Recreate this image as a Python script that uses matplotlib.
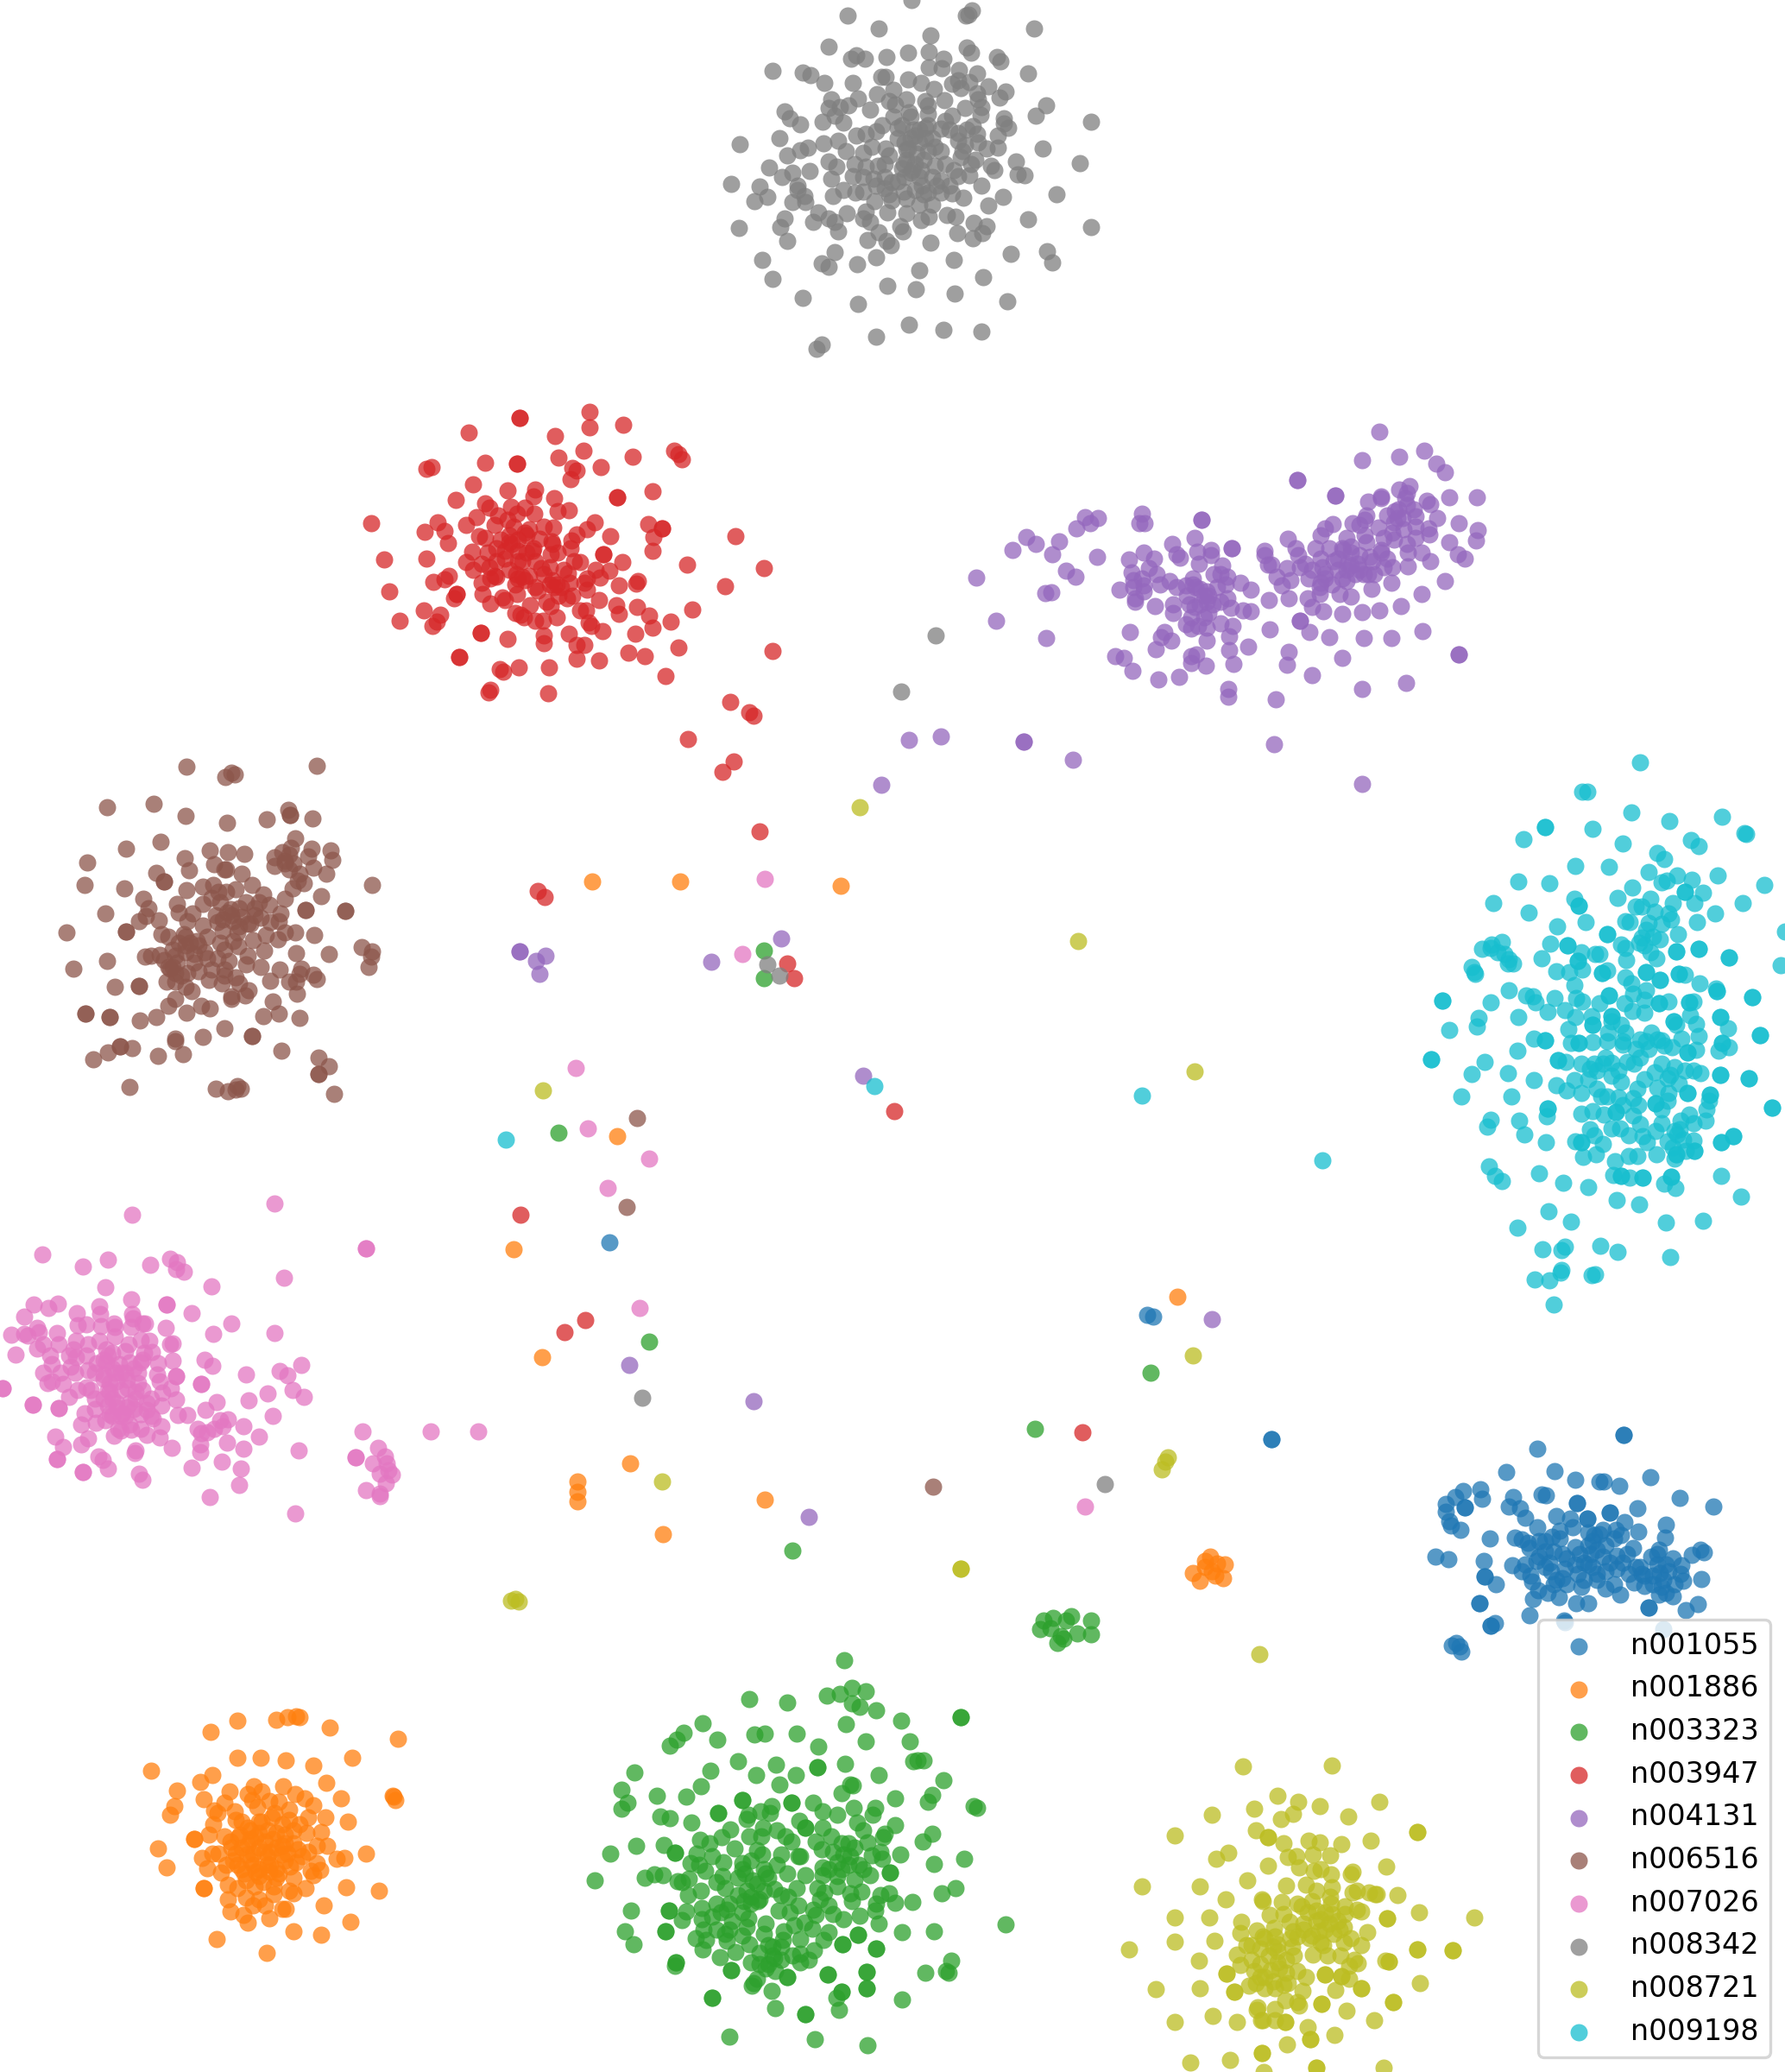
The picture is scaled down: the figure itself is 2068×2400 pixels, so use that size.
import matplotlib
matplotlib.use('Agg')
import matplotlib.pyplot as plt

# 2D embedding values, one small list per class
labels = ['n001055', 'n001886', 'n003323', 'n003947', 'n004131',
          'n006516', 'n007026', 'n008342', 'n008721', 'n009198']

n001055 = [(1881,1662),(1881,1662),(1781,1678),(1745,1705),(1801,1704),(1912,1711),(1825,1714),(1853,1716),(1858,1716),(1876,1721),
(1695,1727),(1715,1725),(1717,1736),(1686,1734),(1675,1742),(1675,1751),(1697,1746),(1697,1746),(1753,1734),(1786,1731),(1791,1732),
(1748,1745),(1761,1747),(1827,1741),(1827,1741),(1946,1735),(1985,1745),(1897,1747),(1865,1752),(1865,1752),(1767,1758),(1803,1756),
(1819,1759),(1839,1759),(1839,1759),(1679,1762),(1681,1767),(1692,1772),(1882,1763),(1930,1766),(1781,1769),(1822,1769),(1807,1773),
(1857,1772),(1872,1772),(1898,1774),(1840,1775),(1726,1782),(1755,1781),(1763,1783),(1770,1787),(1783,1785),(1798,1780),(1807,1782),
(1847,1778),(1853,1777),(1878,1778),(1870,1782),(1929,1781),(1772,1793),(1790,1797),(1825,1792),(1840,1790),(1892,1793),(1922,1795),
(1970,1795),(1974,1798),(1960,1801),(1663,1803),(1678,1806),(1719,1808),(1783,1803),(1800,1797),(1830,1800),(1843,1800),(1857,1803),
(1873,1802),(1885,1800),(1913,1803),(1938,1805),(1752,1813),(1767,1812),(1780,1808),(1813,1817),(1840,1812),(1873,1817),(1920,1812),
(1948,1813),(1763,1820),(1797,1820),(1828,1823),(1850,1823),(1887,1823),(1902,1823),(1923,1822),(1933,1820),(1947,1823),(1720,1826),
(1720,1826),(1773,1825),(1733,1835),(1971,1829),(1775,1832),(1803,1830),(1832,1838),(1850,1830),(1870,1835),(1893,1833),(1905,1837),
(1927,1830),(1950,1831),(1860,1840),(1782,1842),(1793,1845),(1877,1847),(1922,1847),(1938,1849),(1776,1852),(1806,1850),(1714,1857),
(1714,1857),(1826,1857),(1840,1857),(1910,1862),(1910,1862),(1967,1858),(1953,1865),(1772,1871),(1732,1880),(1727,1883),(1727,1883),
(1812,1877),(1813,1879),(1927,1887),(1687,1903),(1682,1906),(1691,1907),(1693,1913),
(1815,1805),(1835,1810),(1850,1795),(1865,1810),(1900,1815),(1915,1825),(1930,1812),(1925,1838),(1795,1810),(1810,1828),
(1810,1800),(1825,1812),(1845,1815),(1860,1820),(1880,1810),(1790,1815),(1815,1835),(1835,1830),(1905,1825),(1915,1835),(1930,1845),(1940,1835),
(1895,1815),(1920,1800),(1845,1785),(1860,1790),(1790,1785),(1800,1835),
(706,1439),(1329,1523),(1336,1525),(1473,1667),(1473,1667)]

n001886 = [(275,1993),(320,1992),(333,1989),(343,1988),(347,1989),(244,2006),(382,2001),(461,2014),(275,2036),(302,2036),(331,2039),
(408,2036),(363,2045),(175,2051),(246,2056),(232,2064),(378,2065),(205,2074),(266,2075),(294,2069),(303,2075),(328,2069),(342,2078),
(236,2084),(287,2078),(353,2083),(395,2083),(455,2080),(456,2081),(458,2085),(202,2092),(197,2102),(260,2088),(292,2085),(312,2086),
(323,2087),(363,2091),(248,2097),(252,2100),(272,2098),(298,2093),(335,2096),(377,2105),(357,2105),(403,2110),(247,2113),(273,2108),
(287,2117),(303,2110),(327,2113),(347,2113),(372,2122),(225,2130),(225,2130),(242,2125),(260,2127),(278,2125),(300,2123),(320,2123),
(340,2120),(355,2123),(183,2141),(267,2133),(287,2137),(307,2133),(327,2138),(367,2138),(379,2138),(253,2147),(273,2147),(293,2147),
(313,2145),(333,2147),(357,2145),(234,2152),(246,2147),(390,2153),(399,2152),(424,2147),(193,2163),(240,2164),(256,2169),(275,2160),
(293,2160),(313,2160),(343,2157),(360,2167),(367,2158),(371,2166),(363,2172),(283,2170),(300,2173),(323,2170),(340,2175),(236,2187),
(236,2187),(264,2183),(275,2187),(317,2185),(335,2190),(354,2187),(401,2186),(439,2190),(340,2193),(264,2200),(285,2198),(300,2200),
(317,2194),(293,2207),(307,2207),(375,2207),(327,2211),(331,2211),(267,2214),(282,2218),(287,2227),(312,2222),(406,2226),(340,2237),
(372,2241),(251,2246),(309,2262),
(290,2120),(310,2120),(330,2125),(280,2140),(300,2140),(320,2140),(340,2135),(270,2155),(290,2155),(310,2150),(330,2155),(350,2150),
(280,2165),(300,2165),(320,2165),(300,2110),(315,2105),(280,2110),(320,2175),(295,2185),
(296,2128),(316,2130),(276,2128),(306,2145),(286,2148),(326,2148),(268,2140),(296,2168),(312,2168),(336,2162),(285,2178),(305,2180),(262,2160),(345,2142),(318,2100),(335,2108),
(290,2130),(310,2160),(330,2135),
(686,1021),(788,1021),(974,1026),(715,1316),(595,1447),(1364,1502),(628,1572),(669,1716),(669,1728),(669,1739),(730,1695),(886,1737),
(768,1777),(1402,1803),(1410,1811),(1419,1812),(1396,1815),(1382,1822),(1390,1831),(1408,1825),(1417,1828),(1396,1808),(1404,1820)]

n003323 = [(978,1923),(987,1955),(1003,1959),(973,1962),(958,1964),(868,1968),(912,1972),(987,1973),(996,1977),(1015,1981),(1044,1993),
(1113,1989),(1113,1989),(814,1996),(980,1997),(792,2007),(784,2015),(776,2022),(831,2015),(874,2009),(886,2008),(923,2008),(1003,2017),
(1054,2017),(948,2023),(855,2040),(1058,2040),(1063,2039),(1070,2039),(979,2043),(899,2044),(947,2047),(947,2047),(735,2053),(823,2051),
(876,2056),(922,2056),(1018,2056),(1093,2062),(985,2067),(988,2068),(903,2067),(812,2069),(720,2073),(975,2077),(1080,2079),(761,2080),
(795,2081),(1037,2083),(860,2085),(860,2085),(1075,2087),(727,2088),(917,2088),(917,2088),(942,2088),(720,2095),(1128,2092),(1132,2094),
(989,2094),(894,2092),(881,2098),(892,2100),(832,2100),(832,2100),(953,2098),(1014,2094),(1011,2102),(765,2104),(776,2106),(865,2107),
(867,2102),(970,2102),(801,2111),(926,2109),(1037,2114),(933,2117),(933,2117),(993,2111),(846,2119),(884,2117),(953,2117),(1000,2120),
(1080,2124),(1025,2124),(868,2127),(882,2127),(900,2120),(910,2127),(963,2127),(1023,2128),(811,2131),(836,2128),(1069,2133),(945,2133),
(917,2133),(983,2135),(1005,2134),(769,2137),(737,2138),(822,2135),(851,2141),(877,2143),(952,2142),(1020,2145),(782,2146),(782,2146),
(707,2147),(807,2147),(825,2150),(883,2148),(905,2148),(927,2150),(977,2148),(1010,2149),(1022,2153),(1043,2148),(1117,2153),(1082,2159),
(800,2158),(838,2157),(860,2158),(953,2163),(983,2160),(970,2157),(817,2167),(863,2170),(887,2170),(912,2170),(933,2172),(1031,2169),
(1031,2169),(758,2171),(768,2172),(747,2175),(1008,2172),(689,2178),(785,2179),(798,2176),(837,2173),(970,2173),(990,2177),(877,2182),
(953,2172),(840,2187),(897,2188),(923,2187),(947,2187),(955,2192),(797,2195),(812,2190),(985,2193),(998,2191),(1020,2195),(1107,2187),
(1091,2193),(870,2197),(913,2197),(1030,2193),(1057,2203),(1037,2204),(987,2202),(830,2205),(862,2202),(878,2202),(925,2207),(960,2207),
(1015,2205),(731,2213),(775,2213),(775,2213),(795,2214),(842,2212),(902,2213),(942,2212),(813,2210),(1014,2213),(965,2217),(790,2224),
(996,2219),(977,2223),(945,2218),(915,2215),(813,2223),(867,2222),(887,2228),(932,2227),(1018,2228),(830,2235),(865,2232),(908,2237),
(941,2234),(724,2237),(771,2237),(771,2237),(1045,2238),(1082,2237),(1165,2229),(960,2238),(994,2241),(994,2241),(806,2245),(860,2242),
(927,2246),(954,2247),(818,2247),(842,2248),(907,2247),(868,2252),(976,2252),(976,2252),(734,2252),(890,2253),(943,2259),(1015,2257),
(1015,2257),(814,2258),(852,2261),(834,2267),(880,2262),(918,2265),(927,2263),(897,2268),(1102,2271),(783,2273),(783,2273),(782,2277),
(870,2273),(927,2273),(937,2270),(847,2282),(847,2282),(887,2280),(898,2283),(959,2287),(959,2287),(1004,2284),(1004,2284),(1072,2285),
(1096,2283),(1099,2285),(912,2290),(912,2290),(877,2292),(873,2297),(871,2300),(1004,2303),(1004,2303),(894,2306),(975,2307),(975,2307),
(969,2314),(825,2314),(825,2314),(1045,2316),(898,2326),(972,2328),(933,2333),(933,2333),(845,2359),(944,2362),(1005,2369),
(860,2165),(872,2178),(885,2165),(855,2195),(870,2205),(885,2190),(835,2215),(848,2225),(840,2240),(985,2150),(975,2165),(995,2160),(895,2265),(890,2275),(905,2255),
(855,2175),(865,2190),(880,2200),(890,2175),(845,2205),(860,2215),(825,2220),(815,2235),(845,2235),(885,2240),(895,2255),(905,2270),(880,2275),(965,2145),
(990,2140),(975,2135),(1000,2165),(960,2165),(970,2185),(925,2150),(900,2160),(870,2155),(810,2160),(790,2180),(830,2180),(905,2195),(950,2200),(920,2230),
(885,1101),(885,1133),(647,1312),(752,1554),(1333,1590),(1199,1655),(918,1796),(1209,1877),(1220,1874),(1235,1877),(1241,1872),(1205,1887),
(1217,1886),(1229,1895),(1264,1877),(1264,1893),(1248,1892),(1225,1903),(1232,1898)]

n003947 = [(683,477),(683,495),(722,492),(602,484),(602,484),(543,501),(643,505),(676,522),(647,530),(733,529),(781,522),(786,526),(790,532),
(562,536),(599,537),(599,537),(696,541),(494,543),(500,541),(663,542),(668,545),(661,555),(548,561),(588,568),(620,567),(618,575),(642,577),
(715,576),(715,576),(756,569),(528,579),(562,583),(567,588),(592,587),(608,588),(619,595),(646,592),(659,591),(430,606),(552,599),(599,595),
(588,602),(577,597),(507,605),(540,608),(515,615),(492,616),(689,605),(680,613),(751,607),(767,612),(767,612),(757,622),(852,621),(573,608),
(613,613),(630,610),(641,611),(608,617),(590,620),(562,623),(555,621),(668,619),(662,626),(625,624),(639,627),(707,621),(519,629),(575,635),
(600,638),(617,638),(618,635),(547,639),(585,647),(593,630),(638,642),(646,640),(661,635),(699,642),(699,642),(756,638),(494,647),(445,648),
(540,651),(558,653),(548,660),(567,657),(627,658),(637,657),(653,660),(665,650),(672,651),(721,651),(796,654),(885,658),(690,660),(706,661),
(658,664),(568,670),(573,667),(600,670),(613,667),(605,668),(520,667),(515,671),(502,674),(558,675),(597,677),(637,677),(645,677),(677,675),
(695,669),(739,673),(737,676),(717,678),(840,679),(451,685),(529,688),(529,688),(526,693),(559,688),(623,684),(680,683),(599,688),(582,692),
(585,695),(647,690),(663,690),(657,693),(633,697),(694,695),(568,699),(614,701),(638,702),(714,701),(738,703),(802,706),(672,707),(679,707),
(491,707),(510,712),(597,710),(603,712),(607,715),(645,715),(717,711),(752,713),(463,719),(506,720),(501,725),(620,719),(629,719),(682,721),
(685,725),(777,720),(756,727),(557,733),(557,733),(698,731),(588,740),(630,736),(659,734),(736,734),(630,745),(668,747),(677,747),(786,750),
(895,754),(532,761),(532,761),(728,756),(747,760),(668,763),(694,765),(579,775),(583,778),(601,773),(636,773),(771,783),(568,799),(566,802),
(635,803),(846,813),(868,825),(873,829),
(590,628),(600,625),(585,638),(610,640),(600,650),(598,665),(608,672),(640,672),(642,680),(575,668),
(580,625),(605,650),(590,660),(620,650),(630,665),(650,680),(620,680),(565,640),(575,650),(610,620),(640,630),(680,670),(660,675),(595,610),
(797,856),(837,894),(850,882),(880,963),(623,1032),(631,1039),(912,1116),(920,1133),(1036,1287),(603,1407),(654,1543),(678,1529),(1254,1659)]

n004131 = [(1598,500),(1578,533),(1621,529),(1650,522),(1664,537),(1674,547),(1503,556),(1503,556),(1547,574),(1547,574),(1711,576),(1679,576),
(1585,581),(1600,577),(1600,575),(1621,567),(1633,563),(1630,571),(1628,577),(1653,580),(1657,584),(1257,599),(1272,600),(1263,606),(1247,612),
(1323,595),(1320,606),(1326,606),(1392,602),(1392,602),(1665,600),(1690,606),(1712,614),(1710,626),(1679,628),(1689,642),(1697,647),(1657,650),
(1674,673),(1647,688),(1623,702),(1598,707),(1578,709),(1555,711),(1533,708),(1520,703),(1515,693),(1493,693),(1470,695),(1506,719),(1506,719),
(1517,732),(1540,738),(1580,739),(1612,739),(1648,731),(1471,729),(1690,758),(1690,758),(1493,755),(1491,770),(1555,762),(1520,782),(1578,798),
(1629,791),(1478,810),(1423,798),(1423,807),(1189,622),(1200,630),(1227,627),(1173,637),(1219,642),(1271,645),(1235,661),(1246,668),(1211,687),
(1218,686),(1384,623),(1358,630),(1363,642),(1367,646),(1427,635),(1427,635),(1403,637),(1403,643),(1387,639),(1325,640),(1337,647),(1308,648),
(1331,658),(1389,653),(1416,655),(1311,663),(1313,672),(1323,670),(1325,678),(1313,680),(1297,683),(1344,677),(1355,673),(1363,680),(1374,678),
(1382,670),(1382,677),(1406,665),(1414,665),(1422,668),(1420,677),(1437,675),(1449,683),(1398,685),(1390,682),(1315,693),(1315,697),(1338,702),
(1359,700),(1359,710),(1378,700),(1384,703),(1398,697),(1414,697),(1422,693),(1426,704),(1440,707),(1449,708),(1400,710),(1374,723),(1388,725),
(1398,727),(1414,722),(1428,725),(1380,728),(1424,737),(1309,732),(1349,732),(1345,738),(1357,742),(1398,742),(1424,753),(1446,749),(1339,752),
(1292,760),(1302,762),(1386,758),(1380,760),(1380,768),(1397,771),(1429,769),(1312,777),(1342,787),(1366,784),(1492,624),(1501,635),(1465,638),
(1465,643),(1469,654),(1473,654),(1504,643),(1512,653),(1491,658),(1479,668),(1485,678),(1495,672),(1506,657),(1516,670),(1529,680),(1529,688),
(1535,670),(1543,677),(1552,688),(1565,691),(1560,673),(1561,653),(1550,647),(1544,607),(1535,612),(1530,620),(1524,635),(1540,635),(1530,647),
(1532,657),(1560,623),(1556,637),(1565,633),(1575,643),(1573,653),(1587,645),(1585,665),(1589,682),(1592,665),(1603,657),(1612,675),(1613,657),
(1607,647),(1600,637),(1603,623),(1613,617),(1567,606),(1575,608),(1581,602),(1583,597),(1581,620),(1583,628),(1597,611),(1607,597),(1616,592),
(1619,600),(1640,598),(1638,590),(1626,613),(1640,623),(1655,612),(1656,619),(1630,630),(1631,640),(1631,656),(1647,640),
(1385,680),(1395,690),(1405,700),(1390,700),(1375,690),(1550,660),(1560,660),(1545,650),(1555,670),(1565,655),(1575,660),(1535,665),(1615,605),(1625,600),(1620,590),
(1400,690),(1380,715),(1395,715),(1410,680),(1340,665),(1325,685),(1520,660),(1530,675),(1570,665),(1580,665),(1565,640),(1555,635),(1630,585),(1640,610),(1615,625),(1600,640),(1590,650),
(1131,669),(1154,719),(1212,739),(1186,859),(1186,859),(1243,880),(1090,853),(1053,857),(1021,909),(1476,862),(1578,908),(905,1087),(824,1114),
(602,1102),(602,1102),(632,1107),(621,1113),(625,1128),(1000,1246),(1404,1528),(729,1581),(873,1623),(937,1757)]

n006516 = [(216,888),(261,900),(268,895),(272,897),(367,887),(124,935),(178,931),(215,945),(263,953),(309,949),(334,938),(336,944),(336,944),
(362,948),(342,971),(186,975),(146,983),(101,999),(214,994),(243,985),(264,987),(283,989),(361,983),(383,985),(385,996),(357,992),(337,982),
(327,987),(318,993),(318,1003),(330,997),(335,1007),(347,1012),(363,1005),(378,1012),(352,1023),(339,1029),(248,1001),(260,1007),(262,1007),
(280,1012),(219,1008),(181,1011),(190,1021),(190,1021),(98,1025),(144,1029),(216,1031),(235,1027),(247,1025),(253,1033),(262,1033),(273,1030),
(292,1025),(431,1025),(372,1038),(166,1041),(172,1052),(169,1061),(161,1067),(122,1058),(205,1047),(207,1057),(235,1047),(223,1058),(305,1036),
(312,1048),(330,1041),(295,1052),(295,1060),(267,1053),(277,1052),(263,1057),(354,1054),(354,1054),(400,1055),(400,1055),(325,1058),(323,1067),
(184,1066),(146,1079),(146,1079),(77,1080),(217,1067),(235,1072),(252,1068),(258,1078),(277,1073),(287,1070),(270,1067),(302,1063),(313,1068),
(330,1080),(342,1080),(364,1083),(308,1083),(322,1088),(293,1089),(187,1082),(195,1085),(213,1082),(207,1092),(220,1092),(230,1095),(255,1092),
(276,1096),(260,1100),(306,1101),(287,1107),(343,1104),(381,1105),(419,1097),(431,1102),(430,1108),(427,1120),(168,1108),(175,1107),(185,1106),
(190,1112),(124,1113),(85,1122),(203,1107),(215,1103),(225,1115),(237,1103),(252,1110),(265,1113),(285,1117),(302,1120),(324,1123),(197,1122),
(203,1127),(217,1127),(245,1123),(260,1123),(273,1132),(349,1122),(363,1129),(367,1134),(347,1128),(335,1137),(343,1137),(313,1136),(193,1137),
(203,1137),(242,1135),(257,1139),(277,1139),(133,1143),(161,1142),(161,1142),(215,1143),(222,1148),(288,1147),(344,1151),(284,1153),(268,1154),
(268,1157),(203,1157),(195,1165),(233,1165),(243,1168),(316,1160),(99,1174),(99,1174),(127,1178),(127,1178),(181,1178),(216,1173),(162,1182),
(323,1174),(305,1177),(347,1179),(260,1191),(292,1200),(292,1200),(235,1201),(203,1203),(203,1206),(139,1212),(139,1212),(153,1214),(125,1219),
(108,1227),(183,1223),(212,1221),(326,1217),(369,1225),(381,1235),(369,1244),(369,1244),(150,1259),(250,1261),(264,1264),(275,1258),(273,1262),
(279,1261),(387,1267),
(255,1045),(268,1060),(280,1062),(258,1065),(275,1080),(215,1095),(225,1105),(205,1115),(210,1130),(200,1120),(228,1090),(335,990),(340,1000),
(245,1040),(285,1045),(300,1045),(250,1060),(290,1070),(270,1090),(240,1085),(200,1100),(195,1120),(230,1125),(215,1085),(240,1110),(260,1130),(330,1000),(345,1020),
(738,1295),(726,1398),(1081,1722)]

n007026 = [(153,1407),(318,1394),(424,1446),(424,1446),(49,1453),(96,1467),(125,1459),(174,1465),(197,1458),(205,1462),(204,1470),(213,1473),
(329,1480),(122,1491),(245,1490),(152,1505),(193,1511),(193,1511),(39,1511),(56,1515),(67,1510),(115,1513),(222,1521),(28,1525),(89,1521),
(116,1522),(153,1522),(154,1527),(168,1533),(165,1533),(268,1533),(192,1538),(247,1545),(318,1544),(13,1546),(28,1545),(32,1547),(43,1538),
(45,1543),(66,1544),(90,1535),(100,1534),(117,1536),(132,1533),(133,1537),(152,1537),(133,1548),(163,1552),(173,1553),(197,1557),(200,1556),
(68,1557),(43,1562),(50,1557),(88,1553),(102,1557),(115,1553),(149,1557),(18,1569),(58,1570),(85,1563),(88,1572),(123,1563),(130,1567),(167,1567),
(176,1566),(112,1579),(123,1578),(150,1578),(163,1578),(183,1579),(200,1576),(237,1575),(246,1582),(50,1590),(60,1580),(82,1583),(87,1590),
(102,1587),(133,1590),(182,1592),(204,1594),(204,1594),(285,1592),(324,1588),(333,1593),(349,1581),(55,1602),(73,1603),(120,1597),(127,1602),
(147,1598),(160,1602),(3,1608),(3,1608),(233,1603),(233,1603),(100,1607),(105,1610),(90,1610),(127,1612),(157,1612),(188,1613),(198,1608),(339,1610),
(310,1614),(352,1618),(80,1618),(130,1620),(157,1620),(175,1620),(204,1621),(288,1622),(251,1624),(38,1627),(38,1627),(68,1631),(68,1631),(110,1632),
(135,1630),(147,1630),(170,1633),(187,1628),(238,1633),(98,1637),(127,1638),(142,1637),(163,1638),(206,1639),(217,1639),(316,1640),(94,1650),(111,1648),
(122,1645),(177,1643),(187,1652),(255,1645),(264,1644),(258,1652),(248,1655),(282,1652),(229,1655),(233,1660),(240,1659),(137,1655),(140,1657),(152,1656),
(163,1655),(132,1663),(170,1662),(185,1665),(64,1664),(102,1666),(94,1673),(300,1664),(420,1658),(73,1676),(199,1677),(232,1673),(232,1682),(263,1671),
(282,1678),(438,1677),(346,1680),(157,1680),(156,1683),(114,1687),(119,1691),(412,1688),(412,1688),(446,1687),(66,1690),(66,1690),(432,1695),(257,1693),
(125,1701),(448,1695),(450,1703),(454,1708),(222,1700),(279,1701),(96,1705),(96,1705),(440,1707),(161,1707),(165,1714),(447,1718),(277,1720),(424,1726),
(440,1730),(440,1733),(243,1734),(342,1753),(499,1658),(554,1658),
(120,1575),(130,1585),(145,1590),(160,1590),(125,1610),(140,1610),(135,1625),(150,1625),
(125,1570),(138,1580),(155,1585),(120,1592),(135,1600),(148,1608),(125,1628),(140,1640),(155,1632),(170,1625),
(140,1590),(165,1610),(120,1620),(130,1640),(150,1650),(110,1590),(165,1575),(175,1640),(80,1570),(70,1590),(100,1570),(145,1565),(60,1600),(185,1600),(110,1620),(145,1640),
(886,1018),(860,1105),(667,1237),(681,1307),(752,1342),(704,1376),(741,1515),(1257,1745)]

n008342 = [(1056,0),(982,18),(1018,33),(1119,18),(1122,17),(1126,12),(1198,33),(1078,41),(960,54),(1076,60),(1052,61),(992,64),(986,68),(1002,68),
(1027,66),(1120,55),(1125,61),(1155,66),(1159,71),(1093,68),(1091,79),(1076,78),(1111,81),(1132,85),(895,82),(930,84),(939,87),(955,96),(988,96),
(1021,89),(1026,89),(1191,85),(1052,92),(1067,96),(1082,103),(1103,97),(1110,93),(1113,102),(1123,95),(1145,100),(1165,106),(1158,113),(1132,108),
(1133,115),(1016,109),(1035,104),(1050,115),(1094,116),(1072,117),(1075,122),(963,115),(994,114),(983,122),(973,124),(960,125),(1008,127),(1037,121),
(1030,117),(1118,125),(1137,124),(1212,122),(1200,134),(1264,141),(909,129),(915,137),(927,144),(953,141),(967,134),(977,142),(1053,130),(1055,135),
(1075,132),(1103,134),(1136,133),(1163,137),(1163,143),(1168,148),(1156,157),(1022,145),(1015,152),(1003,155),(992,157),(1040,148),(1090,149),(1110,154),
(1127,146),(1132,155),(1065,150),(1072,148),(1060,157),(903,160),(857,167),(954,166),(971,163),(936,171),(927,174),(912,180),(980,175),(1000,177),
(1026,172),(1048,165),(1050,173),(1083,170),(1110,163),(1118,168),(1133,165),(1143,172),(1156,171),(1208,172),(1177,187),(1251,189),(891,194),(960,187),
(969,193),(938,198),(918,200),(906,205),(1003,193),(1017,192),(1025,190),(1047,190),(1057,197),(1067,197),(1083,192),(1105,197),(1113,182),(1130,185),
(1148,192),(1152,197),(1179,202),(1187,203),(1123,203),(1110,204),(1090,209),(963,207),(988,204),(1012,207),(1033,211),(1137,215),(847,213),(880,216),
(924,215),(924,220),(889,228),(874,233),(918,234),(933,234),(932,227),(965,227),(977,220),(991,223),(1000,222),(1025,218),(1047,222),(1068,215),(1075,223),
(1090,223),(1103,224),(1116,229),(1162,228),(1224,225),(1013,233),(1033,232),(1050,230),(1065,237),(1080,237),(1145,238),(981,247),(948,246),(1003,245),
(1028,246),(1050,247),(909,253),(942,257),(960,253),(967,257),(1000,253),(1008,257),(1067,255),(1076,251),(1097,249),(1107,251),(1128,258),(1143,262),
(1191,254),(1264,263),(856,264),(904,263),(971,268),(1043,262),(1046,268),(1018,269),(1109,270),(1138,270),(1127,276),(912,279),(1005,278),(1027,279),
(1032,284),(1078,281),(967,292),(1171,294),(1213,291),(1219,304),(883,301),(1105,301),(1015,298),(952,305),(960,309),(993,306),(1065,313),(895,323),
(1139,321),(1028,331),(1061,335),(1106,340),(930,345),(1167,349),(994,352),(1053,376),(1093,382),(1137,384),(1015,390),(952,399),(946,404),
(1055,160),(1065,165),(1050,185),(1060,190),(1070,185),(1045,195),(1055,200),(1065,205),(1075,175),(1062,178),(1052,172),(1072,160),(1058,150),(1048,205),
(1040,160),(1030,180),(1080,160),(1090,175),(1040,210),(1080,205),(1095,190),(1025,205),(1010,170),(1100,150),(1115,175),(1120,150),(1060,220),(1035,135),
(1075,145),(1095,140),(1045,145),(1085,215),(1000,205),(990,190),(1100,215),(1070,225),(1030,225),(1015,215),(1125,190),
(1084,736),(1044,801),(889,1117),(903,1130),(744,1619),(1280,1719)]

n008721 = [(1440,2046),(1543,2045),(1480,2080),(1504,2087),(1453,2095),(1529,2092),(1598,2087),(1498,2101),(1484,2107),(1404,2102),(1562,2104),
(1455,2120),(1469,2128),(1469,2128),(1361,2126),(1642,2122),(1642,2122),(1487,2135),(1516,2132),(1529,2134),(1554,2136),(1588,2132),(1423,2146),
(1409,2153),(1492,2151),(1502,2150),(1521,2148),(1541,2149),(1505,2163),(1469,2161),(1522,2167),(1530,2165),(1606,2162),(1542,2171),(1567,2168),
(1565,2171),(1445,2178),(1323,2185),(1390,2185),(1490,2184),(1513,2183),(1543,2186),(1525,2190),(1572,2190),(1567,2192),(1586,2192),(1593,2194),
(1595,2194),(1619,2195),(1462,2200),(1463,2202),(1420,2200),(1485,2203),(1503,2205),(1508,2208),(1520,2202),(1541,2197),(1542,2205),(1558,2208),
(1572,2212),(1577,2214),(1644,2215),(1708,2221),(1361,2221),(1401,2221),(1471,2218),(1487,2217),(1525,2213),(1543,2217),(1558,2217),(1607,2222),
(1607,2222),(1438,2226),(1494,2226),(1510,2228),(1530,2223),(1557,2232),(1456,2236),(1476,2233),(1498,2237),(1528,2237),(1552,2235),(1584,2238),
(1437,2239),(1463,2243),(1477,2243),(1503,2243),(1517,2245),(1565,2245),(1361,2249),(1407,2248),(1444,2253),(1450,2253),(1480,2252),(1497,2255),
(1557,2250),(1577,2253),(1642,2258),(1642,2258),(1683,2259),(1683,2259),(1308,2258),(1460,2257),(1480,2260),(1533,2253),(1521,2264),(1538,2265),
(1553,2265),(1433,2264),(1499,2265),(1569,2270),(1389,2271),(1437,2276),(1460,2275),(1480,2273),(1573,2274),(1605,2271),(1609,2272),(1609,2272),
(1421,2286),(1421,2286),(1453,2283),(1472,2282),(1503,2283),(1563,2277),(1513,2290),(1535,2287),(1535,2287),(1554,2289),(1554,2289),(1563,2292),
(1645,2297),(1339,2304),(1390,2303),(1447,2300),(1455,2297),(1465,2303),(1477,2303),(1487,2299),(1492,2297),(1509,2306),(1547,2305),(1577,2303),
(1577,2303),(1430,2307),(1430,2307),(1489,2317),(1614,2319),(1614,2319),(1503,2319),(1505,2323),(1531,2321),(1531,2321),(1457,2325),(1456,2328),
(1477,2327),(1560,2329),(1405,2335),(1461,2340),(1463,2340),(1477,2340),(1489,2342),(1489,2342),(1592,2340),(1361,2342),(1433,2342),(1515,2348),
(1546,2357),(1518,2362),(1518,2362),(1491,2368),(1462,2378),(1462,2378),(1425,2386),(1379,2389),(1464,2400),(1525,2395),(1525,2395),(1603,2395),
(1470,2265),(1482,2280),(1465,2290),(1490,2270),(1525,2225),(1535,2235),(1520,2242),(1540,2228),
(1475,2295),(1460,2290),(1490,2285),(1450,2270),(1475,2255),(1465,2245),(1515,2215),(1535,2215),(1550,2225),(1510,2235),(1495,2245),(1545,2240),(1530,2250),
(996,935),(1249,1090),(1384,1241),(629,1263),(1382,1570),(767,1716),(1353,1688),(1350,1693),(1346,1702),(1113,1817),(1113,1817),(1459,1916),
(597,1852),(601,1855),(592,1854)]

n009198 = [(1900,883),(1833,917),(1839,917),(1890,941),(1934,951),(1995,946),(1790,958),(1790,958),(1845,960),(2021,965),(2023,966),(1765,972),(1880,977),
(1959,973),(1968,980),(1920,988),(1928,995),(1825,1003),(1864,1004),(1910,1010),(1990,1014),(2044,1025),(1759,1021),(1795,1023),(1943,1014),(1960,1019),
(1925,1022),(1931,1020),(1891,1028),(1973,1034),(1952,1033),(1952,1033),(1874,1040),(1730,1046),(1824,1041),(1829,1049),(1829,1049),(2019,1046),(1912,1041),
(1902,1050),(1895,1050),(1938,1046),(1963,1046),(1771,1057),(1917,1056),(1933,1058),(1936,1065),(1987,1058),(1883,1067),(1888,1068),(1837,1068),(1966,1068),
(1910,1069),(1907,1077),(1804,1073),(2068,1079),(1862,1082),(1862,1082),(1944,1082),(1902,1086),(1899,1092),(1923,1088),(1740,1091),(1728,1094),(1717,1099),
(1727,1098),(1796,1093),(1816,1095),(1816,1095),(1878,1094),(1883,1098),(1968,1099),(1968,1099),(1942,1102),(1942,1102),(1832,1103),(1848,1105),(1853,1105),
(1735,1103),(1743,1105),(1912,1103),(1919,1110),(2003,1109),(2003,1109),(1786,1110),(1884,1112),(1828,1113),(1828,1113),(1748,1111),(1753,1116),(1747,1116),
(2063,1118),(1705,1120),(1708,1126),(1709,1128),(1803,1125),(1818,1126),(1833,1123),(1856,1127),(1856,1127),(1862,1124),(1907,1126),(1907,1126),(1945,1128),
(1945,1128),(1952,1129),(1883,1132),(1923,1135),(1923,1135),(1890,1139),(1969,1139),(1824,1141),(1988,1145),(1989,1148),(1989,1148),(1748,1147),(1907,1147),
(1892,1151),(1768,1153),(1776,1154),(1779,1161),(1801,1156),(1826,1156),(1833,1160),(1864,1153),(1864,1153),(2030,1155),(2030,1155),(1671,1159),(1671,1159),
(1727,1161),(1853,1162),(1882,1162),(1905,1158),(1922,1162),(1922,1162),(1933,1160),(1957,1161),(1957,1161),(1962,1160),(1813,1170),(1793,1172),(1891,1171),
(1905,1173),(1759,1178),(1713,1179),(1844,1177),(1825,1178),(1867,1177),(1867,1177),(1958,1176),(1993,1178),(1993,1178),(1711,1189),(1939,1183),(1939,1183),
(1942,1187),(1965,1186),(1845,1187),(1845,1187),(1867,1183),(1878,1187),(2002,1191),(1679,1193),(1817,1192),(1863,1196),(1883,1196),(2039,1199),(2039,1199),
(1968,1200),(1777,1203),(1790,1205),(1790,1205),(1900,1204),(1913,1196),(1948,1203),(1820,1208),(1829,1208),(1829,1208),(1845,1207),(1862,1206),(1880,1206),
(1907,1206),(1920,1204),(1928,1211),(1995,1208),(1995,1208),(2003,1213),(1991,1217),(1758,1217),(1955,1219),(1955,1219),(1965,1216),(1937,1213),(1658,1227),
(1658,1227),(1720,1230),(1805,1228),(1805,1228),(1814,1230),(1832,1232),(1847,1232),(1867,1231),(1885,1230),(1893,1232),(1925,1232),(1940,1236),(1705,1244),
(1747,1243),(1842,1238),(1857,1232),(1917,1242),(1952,1240),(1962,1240),(1970,1243),(1993,1245),(1993,1245),(2026,1249),(2026,1249),(1777,1251),(1824,1251),
(1867,1246),(1878,1253),(1932,1249),(1803,1257),(1815,1263),(1850,1261),(1832,1266),(1897,1261),(1693,1270),(1751,1270),(1862,1270),(1875,1271),(1892,1272),
(1933,1266),(1955,1266),(1955,1266),(1981,1268),(1981,1268),(1980,1275),(1918,1278),(1918,1278),(1932,1275),(1898,1280),(1793,1284),(1793,1284),(2053,1283),
(2053,1283),(1977,1285),(1832,1290),(1845,1287),(1872,1288),(1872,1288),(1858,1291),(1892,1292),(1957,1291),(1792,1293),(1727,1297),(1760,1298),(1947,1298),
(1976,1298),(1723,1305),(1900,1302),(1925,1301),(1962,1301),(1842,1308),(1867,1307),(1877,1307),(1918,1310),(1946,1308),(1766,1314),(1847,1315),(1887,1315),
(1903,1316),(1943,1314),(1962,1321),(2008,1316),(2008,1316),(1994,1323),(1994,1323),(1791,1323),(1825,1322),(1832,1323),(1832,1323),(1857,1325),(1908,1323),
(1932,1322),(1938,1329),(1963,1333),(1963,1333),(1953,1333),(1834,1340),(1849,1337),(1887,1339),(1897,1339),(1919,1337),(1942,1337),(1942,1337),(1940,1342),
(1871,1345),(1725,1351),(1732,1362),(1740,1368),(1783,1359),(1994,1362),(1869,1361),(1878,1362),(1878,1362),(1888,1364),(1903,1364),(1903,1364),(1936,1363),
(1936,1363),(1928,1371),(1941,1376),(1811,1370),(1840,1375),(2017,1386),(1873,1390),(1899,1395),(1794,1403),(1820,1415),(1930,1416),(1973,1414),(1758,1422),
(1854,1443),(1874,1450),(1935,1456),(1787,1447),(1813,1444),(1809,1448),(1809,1471),(1808,1474),(1778,1482),(1795,1483),(1844,1477),(1848,1476),(1800,1511),
(1850,1240),(1860,1225),(1875,1240),(1895,1215),(1910,1215),(1925,1205),(1935,1245),(1945,1255),(1920,1260),(1905,1250),(1840,1250),(1855,1270),(1880,1280),
(1925,1285),(1940,1310),(1950,1320),(1900,1225),(1880,1210),(1925,1070),(1915,1085),(1905,1095),
(1013,1258),(1323,1269),(1532,1344),(586,1320)]

classes = [n001055, n001886, n003323, n003947, n004131, n006516, n007026, n008342, n008721, n009198]

fig = plt.figure(figsize=(2068 / 240, 10), dpi=240)
ax = fig.add_axes([0, 0, 1, 1])

for i, pts in enumerate(classes):
    xs = [p[0] for p in pts]
    ys = [p[1] for p in pts]
    ax.scatter(xs, ys, s=36, color=f'C{i}', alpha=0.75, linewidths=0, label=labels[i])

ax.set_xlim(0, 2068)
ax.set_ylim(2400, 0)
ax.axis('off')
ax.legend(loc='lower right', bbox_to_anchor=(2051 / 2068, 1 - 2383 / 2400), borderaxespad=0, fontsize=10)

fig.savefig('out.png', dpi=240)
